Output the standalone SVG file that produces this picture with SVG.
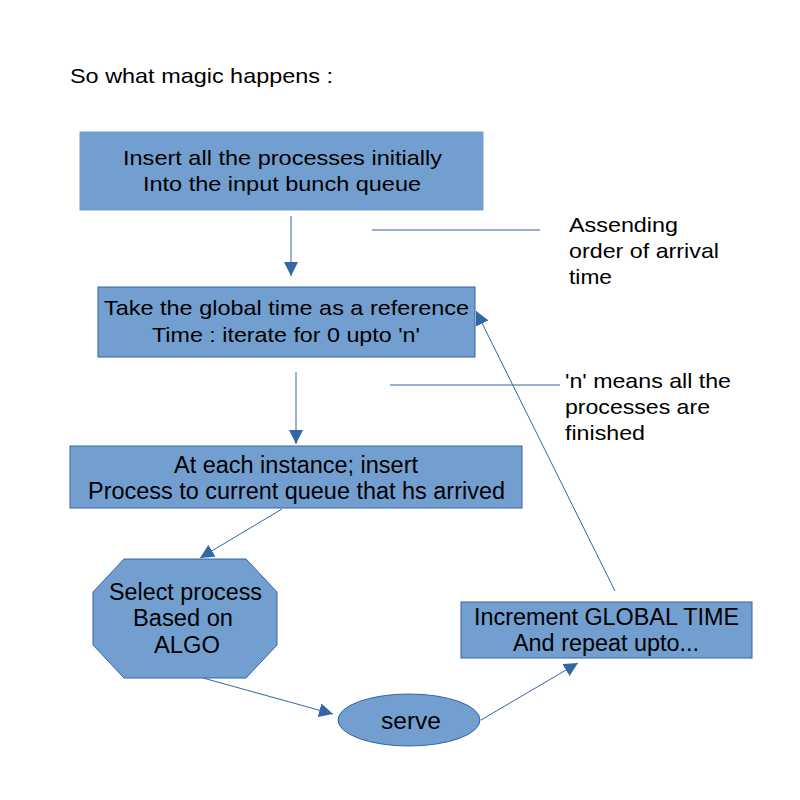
<svg xmlns="http://www.w3.org/2000/svg" width="800" height="800" viewBox="0 0 800 800">
<style>
text{font-family:"Liberation Sans",Arial,sans-serif;font-size:21px;fill:#000}
.cn{font-size:23px}
.box{fill:#729fcf;stroke:#3465a4;stroke-width:1}
.ln{stroke:#3465a4;stroke-width:1;fill:none}
</style>
<defs>
<marker id="ah" viewBox="0 0 10 10" refX="10" refY="5" markerWidth="14" markerHeight="14" markerUnits="userSpaceOnUse" orient="auto">
<path d="M0,0 L10,5 L0,10 z" fill="#3465a4"/>
</marker>
</defs>
<rect width="800" height="800" fill="#fff"/>
<text x="70" y="83" textLength="263" lengthAdjust="spacingAndGlyphs">So what magic happens :</text>
<g id="connectors">
<line class="ln" x1="291" y1="216" x2="291" y2="276" marker-end="url(#ah)"/>
<line class="ln" x1="372" y1="230" x2="540" y2="230"/>
<line class="ln" x1="296" y1="372" x2="296" y2="444" marker-end="url(#ah)"/>
<line class="ln" x1="390" y1="385" x2="560" y2="385"/>
<line class="ln" x1="282" y1="509" x2="200" y2="558" marker-end="url(#ah)"/>
<line class="ln" x1="203" y1="678" x2="333" y2="714" marker-end="url(#ah)"/>
<line class="ln" x1="481" y1="720" x2="578" y2="663" marker-end="url(#ah)"/>
<line class="ln" x1="615" y1="591" x2="476" y2="311" marker-end="url(#ah)"/>
</g>
<g id="n1">
<rect class="box" x="80" y="132" width="403" height="78" style="stroke:#729fcf"/>
<text x="123" y="165" textLength="319" lengthAdjust="spacingAndGlyphs">Insert all the processes initially</text>
<text x="143" y="191" textLength="278" lengthAdjust="spacingAndGlyphs">Into the input bunch queue</text>
</g>
<g id="n2">
<rect class="box" x="98" y="287" width="377" height="70"/>
<text x="104" y="315" textLength="365" lengthAdjust="spacingAndGlyphs">Take the global time as a reference</text>
<text x="152" y="342" textLength="268" lengthAdjust="spacingAndGlyphs">Time : iterate for 0 upto 'n'</text>
</g>
<g id="n3">
<rect class="box" x="70" y="446" width="452" height="62"/>
<text class="cn" x="174" y="473" textLength="244" lengthAdjust="spacingAndGlyphs">At each instance; insert</text>
<text class="cn" x="88" y="499" textLength="417" lengthAdjust="spacingAndGlyphs">Process to current queue that hs arrived</text>
</g>
<g id="n4">
<polygon class="box" points="124,559 246,559 277,592 277,645 246,678 124,678 93,645 93,592"/>
<text class="cn" x="109" y="600" textLength="153" lengthAdjust="spacingAndGlyphs">Select process</text>
<text class="cn" x="133" y="626" textLength="100" lengthAdjust="spacingAndGlyphs">Based on</text>
<text class="cn" x="154" y="653" textLength="66" lengthAdjust="spacingAndGlyphs">ALGO</text>
</g>
<g id="n5">
<ellipse class="box" cx="409" cy="720" rx="71" ry="26"/>
<text class="cn" x="381" y="729" textLength="60" lengthAdjust="spacingAndGlyphs">serve</text>
</g>
<g id="n6">
<rect class="box" x="461" y="602" width="291" height="56"/>
<text class="cn" x="474" y="625" textLength="265" lengthAdjust="spacingAndGlyphs">Increment GLOBAL TIME</text>
<text class="cn" x="513" y="651" textLength="186" lengthAdjust="spacingAndGlyphs">And repeat upto...</text>
</g>
<g id="note1">
<text x="569" y="232" textLength="109" lengthAdjust="spacingAndGlyphs">Assending</text>
<text x="569" y="258" textLength="150" lengthAdjust="spacingAndGlyphs">order of arrival</text>
<text x="569" y="284" textLength="43" lengthAdjust="spacingAndGlyphs">time</text>
</g>
<g id="note2">
<text x="565" y="388" textLength="166" lengthAdjust="spacingAndGlyphs">'n' means all the</text>
<text x="565" y="414" textLength="145" lengthAdjust="spacingAndGlyphs">processes are</text>
<text x="565" y="440" textLength="80" lengthAdjust="spacingAndGlyphs">finished</text>
</g>
</svg>
